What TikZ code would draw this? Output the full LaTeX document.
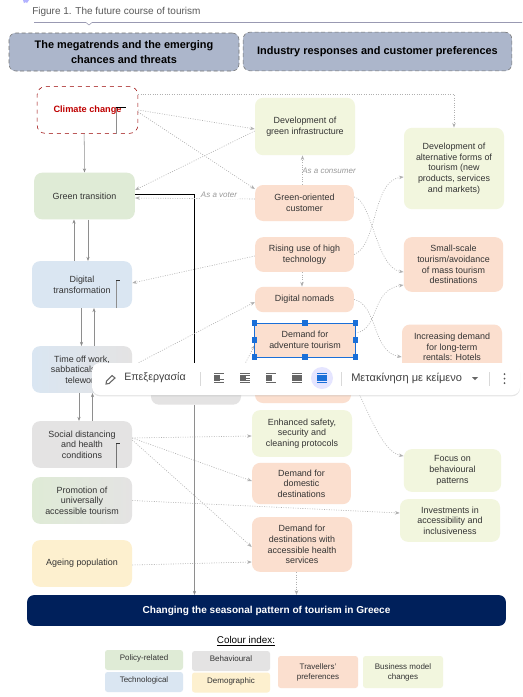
\documentclass[tikz,border=0pt]{standalone}
\usepackage{fontspec}
\setmainfont{Liberation Sans}
\usetikzlibrary{arrows.meta,backgrounds,shadows}

\definecolor{headblue}{HTML}{ACB6CB}
\definecolor{navybar}{HTML}{00205B}
\definecolor{policygreen}{HTML}{DFEBD6}
\definecolor{techblue}{HTML}{DAE6F2}
\definecolor{behavgrey}{HTML}{E4E3E3}
\definecolor{demoyellow}{HTML}{FDF0CF}
\definecolor{prefpeach}{HTML}{FBDFCF}
\definecolor{bizlime}{HTML}{F2F6DE}
\definecolor{linegrey}{HTML}{8E8E8E}
\definecolor{dotgrey}{HTML}{B0B0B0}
\definecolor{selblue}{HTML}{1A6FD8}
\tikzset{
	box/.style={rounded corners=6pt, inner sep=1pt, align=center, text=black!80, font=\fontsize{6.7}{8}\selectfont},
	headbox/.style={rounded corners=5pt, draw=black!55, densely dashed, line width=0.4pt, fill=headblue, align=center, font=\fontsize{8.2}{11}\selectfont\bfseries},
	lane/.style={linegrey, -{Stealth[length=3pt,width=2.4pt]}},
	lanegrey/.style={linegrey, line width=0.7pt},
	dots/.style={dotgrey, dash pattern=on 0.7pt off 1.1pt, line width=0.45pt, -{Stealth[length=3.5pt,width=2.6pt]}},
	notelabel/.style={font=\fontsize{6}{7}\selectfont\itshape, text=black!40, inner sep=1pt},
	handle/.style={fill=selblue, minimum size=4pt, inner sep=0pt},
	swatch/.style={rounded corners=2pt, inner sep=0pt, align=center, text=black!80, font=\fontsize{6}{7.5}\selectfont},
	toolicon/.style={black!60, line width=0.5pt}
}

\begin{document}
\begin{tikzpicture}[x=0.75pt,y=-0.75pt]
	\useasboundingbox (0,0) rectangle (522,697);
	\fill [white] (0,0) rectangle (522,697);

	% caption
	\fill [blue!30] (23,0) -- (29,0) -- (27,3) -- (26,2) -- (24,3) -- cycle;
	\node [anchor=west, inner sep=0pt, text=black!65, font=\fontsize{7.5}{9}\selectfont] (caption) at (32,12) {Figure 1. The future course of tourism};
	\draw [blue!25!black!40, line width=0.4pt] (34,22.5) -- (86,22.5) -- (89,25) -- (92,22.5) -- (522,22.5);

	% headers
	\node [headbox, minimum width=172.5pt, minimum height=28.5pt] (megatrends) at (124,52) {The megatrends and the emerging\\chances and threats};
	\node [headbox, minimum width=201.5pt, minimum height=29pt] (responses) at (377.5,51.5) {Industry responses and customer preferences};

	% left column
	\node [box, draw=red!60!black, dashed, line width=0.4pt, fill=white, minimum width=75.5pt, minimum height=35pt, text=red!75!black, font=\fontsize{6.9}{8}\selectfont\bfseries] (climate) at (87.5,110) {Climate change};
	\node [box, fill=policygreen, minimum width=75.5pt, minimum height=35pt] (green) at (84.5,196) {Green transition};
	\node [box, fill=techblue, minimum width=75pt, minimum height=35pt] (digital) at (82,284.5) {Digital\\transformation};
	\node [box, left color=techblue, middle color=techblue, right color=behavgrey, minimum width=75pt, minimum height=35pt] (timeoff) at (82,369.5) {Time off work,\\sabbaticals and\\telework};
	\node [box, fill=behavgrey, minimum width=75pt, minimum height=35pt] (social) at (82,444.5) {Social distancing\\and health\\conditions};
	\node [box, left color=policygreen, right color=behavgrey, minimum width=75pt, minimum height=35pt] (promotion) at (82,500.5) {Promotion of\\universally\\accessible tourism};
	\node [box, fill=demoyellow, minimum width=75pt, minimum height=35pt] (ageing) at (82,563.5) {Ageing population};

	% middle column
	\node [box, fill=behavgrey, minimum width=67.5pt, minimum height=25pt] (hiddengrey) at (196,388) {};
	\node [box, fill=bizlime, minimum width=75pt, minimum height=43pt] (infra) at (305,126.5) {Development of\\green infrastructure};
	\node [box, fill=prefpeach, minimum width=74pt, minimum height=27pt] (oriented) at (304.5,203) {Green-oriented\\customer};
	\node [box, fill=prefpeach, minimum width=74pt, minimum height=26pt] (rising) at (304.5,254.5) {Rising use of high\\technology};
	\node [box, fill=prefpeach, minimum width=74pt, minimum height=19pt] (nomads) at (304.5,299.5) {Digital nomads};
	\node [box, rounded corners=0pt, fill=prefpeach, minimum width=75pt, minimum height=25pt] (adventure) at (305,340) {Demand for\\adventure tourism};
	\node [box, fill=prefpeach, minimum width=72pt, minimum height=30pt] (hiddenpeach) at (303,383) {};
	\node [box, fill=bizlime, minimum width=75pt, minimum height=35pt] (safety) at (302,433.5) {Enhanced safety,\\security and\\cleaning protocols};
	\node [box, fill=prefpeach, minimum width=74pt, minimum height=31pt] (domestic) at (301.5,483.5) {Demand for\\domestic\\destinations};
	\node [box, fill=prefpeach, minimum width=75pt, minimum height=41pt] (health) at (302,544.5) {Demand for\\destinations with\\accessible health\\services};

	% right column
	\node [box, fill=bizlime, minimum width=75pt, minimum height=61pt] (altforms) at (454,168.5) {Development of\\alternative forms of\\tourism (new\\products, services\\and markets)};
	\node [box, fill=prefpeach, minimum width=74.5pt, minimum height=41pt] (smallscale) at (453.5,264.5) {Small-scale\\tourism/avoidance\\of mass tourism\\destinations};
	\node [box, fill=prefpeach, minimum width=75pt, minimum height=49.5pt] (rentals) at (452,357.5) {Increasing demand\\for long-term\\rentals: Hotels\\ \\ };
	\node [box, fill=bizlime, minimum width=73pt, minimum height=32pt] (focus) at (452.5,470.5) {Focus on\\behavioural\\patterns};
	\node [box, fill=bizlime, minimum width=75pt, minimum height=32pt] (invest) at (450,520.5) {Investments in\\accessibility and\\inclusiveness};

	% bottom bar
	\node [rounded corners=5pt, fill=navybar, text=white, minimum width=359pt, minimum height=23pt, inner sep=0pt, font=\fontsize{7.55}{9}\selectfont\bfseries] (bar) at (266.5,610.5) {Changing the seasonal pattern of tourism in Greece};

	\begin{scope}[on background layer]
		% long lines running behind the boxes
		\coordinate (trunk) at (116,0);
		\coordinate (voterx) at (194.5,0);
		\draw [lanegrey] (bar.north -| trunk) -- (climate.south -| trunk);
		\draw [dots, -] (altforms.east) -- (bar.north -| 506,0);
		\draw [dots] (rentals.south -| 440,0) -- (focus.north -| 440,0);
		\draw [dots, -] (rentals.south -| 456.5,0) -- (focus.north -| 456.5,0);
	\end{scope}

	% solid connectors
	\draw [lanegrey, line width=0.5pt] (climate.south -| trunk) -- (trunk |- 0,107);
	\draw [black, line width=0.5pt] (trunk |- 0,107) -- (126,107);
	\draw [lanegrey] (digital.south -| trunk) -- (trunk |- 0,280);
	\draw [black!80, line width=0.5pt] (trunk |- 0,280) -- ++(3.5,0);
	\draw [lanegrey, black!55] (social.south -| trunk) -- (trunk |- 0,443);
	\draw [black!80, line width=0.5pt] (trunk |- 0,443) -- ++(3.5,0);
	\draw [lane] ([xshift=-2.5pt]climate.south) -- (green.north);
	\draw [lane] (digital.north -| 74,0) -- (green.south -| 74,0);
	\draw [lane] (green.south -| 88,0) -- (digital.north -| 88,0);
	\draw [lane] (digital.south -| 81.5,0) -- (timeoff.north -| 81.5,0);
	\draw [lane] (timeoff.north -| 94,0) -- (digital.south -| 94,0);
	\draw [lane] (timeoff.south -| 79,0) -- (social.north -| 79,0);
	\draw [lane] (social.north -| 92.5,0) -- (timeoff.south -| 92.5,0);
	\draw [black, line width=0.5pt] (green.east |- 0,194) -- (voterx |- 0,194) -- (hiddengrey.north -| voterx);
	\draw [lane] (hiddengrey.south -| voterx) -- (bar.north -| voterx);

	% dotted connectors
	\draw [dots] (climate.east |- 0,94.5) -- (altforms.north |- 0,94.5) -- (altforms.north);
	\draw [dots] (climate.east |- 0,110) -- (infra.west |- 0,129);
	\draw [dots] (climate.east |- 0,112) -- (oriented.west |- 0,189);
	\draw [dots] (infra.west |- 0,131) -- (green.east |- 0,190);
	\draw [dots] (oriented.west |- 0,199) -- (green.east |- 0,198);
	\draw [dots] (oriented.north -| 302.5,0) -- (infra.south -| 302.5,0);
	\draw [dots] (rising.south -| 302,0) -- (nomads.north -| 302,0);
	\draw [dots] (rising.west |- 0,256) -- (digital.east |- 0,283);
	\draw [dots] (timeoff.east |- 0,366) -- (nomads.west |- 0,302);
	\draw [dots] (hiddengrey.north east) -- (adventure.west |- 0,345);
	\draw [dots] (oriented.east |- 0,197) .. controls (372,200) and (376,268) .. (smallscale.west |- 0,272);
	\draw [dots] (rising.east) .. controls (378,245) and (372,180) .. (altforms.west |- 0,177);
	\draw [dots] (nomads.east) .. controls (378,305) and (372,352) .. (rentals.west |- 0,357);
	\draw [dots] (adventure.east |- 0,333) .. controls (380,330) and (370,290) .. (smallscale.west |- 0,285);
	\draw [dots] (hiddenpeach.east) .. controls (360,385) and (378,452) .. (focus.west |- 0,456);
	\draw [dots] (social.east |- 0,438) -- (safety.west |- 0,436);
	\draw [dots] (social.east |- 0,438) -- (domestic.west |- 0,481);
	\draw [dots] (social.east |- 0,440) -- (health.west |- 0,547);
	\draw [dots] (promotion.east) -- (invest.west |- 0,513);
	\draw [dots] (ageing.east |- 0,565) -- (health.west |- 0,562);
	\draw [dots] (health.south -| 296.5,0) -- (bar.north -| 296.5,0);

	% labels on the lines
	\node [notelabel, fill=white] (voter) at (219,195) {As a voter};
	\node [notelabel] (consumer) at (329,171) {As a consumer};

	% selection round the adventure box
	\draw [selblue, line width=0.6pt] (adventure.north west) rectangle (adventure.south east);
	\foreach \a in {north west,north,north east,west,east,south west,south,south east}
		\node [handle] at (adventure.\a) {};

	% toolbar
	\node [rounded corners=6pt, fill=white, minimum width=321pt, minimum height=24pt, drop shadow={opacity=0.2,shadow xshift=0pt,shadow yshift=-1pt}] (toolbar) at (306,379) {};
	\node [anchor=west, inner sep=0pt, text=black!75, font=\fontsize{8}{9}\selectfont] (edit) at (124,378) {Επεξεργασία};
	\node [anchor=west, inner sep=0pt, text=black!75, font=\fontsize{8.3}{9}\selectfont] (move) at (351,378) {Μετακίνηση με κείμενο};
	% pencil
	\draw [black!60, line width=0.8pt] (106,384) -- (106.5,381) -- (112,375.5) -- (115,378) -- (109,383.5) -- cycle;
	% dividers
	\foreach \x in {200,341,489}
		\draw [black!15, line width=0.4pt] (\x,372) -- (\x,386);
	% wrap icons
	\fill [blue!10] (322,378) circle (11);
	\foreach \x/\w in {219/6,245/6,271/6,297/10}{
		\fill [black!60] (\x-5,375) rectangle (\x-5+\w,381);
		\draw [toolicon] (\x-5,373.5) -- (\x+5,373.5) (\x-5,382.5) -- (\x+5,382.5);
	}
	\draw [toolicon] (220,379.5) -- (224,379.5) (246,375.5) -- (250,375.5) (246,378) -- (250,378) (246,380.5) -- (250,380.5);
	\fill [selblue] (317,375) rectangle (327,381);
	\draw [selblue, line width=0.5pt] (317,373.5) -- (327,373.5) (317,382.5) -- (327,382.5);
	% dropdown and menu
	\fill [black!60] (472,377) -- (478,377) -- (475,380) -- cycle;
	\foreach \y in {374,378.5,383}
		\fill [black!65] (504.5,\y) circle (1);

	% colour index
	\node [inner sep=0pt, text=black, font=\fontsize{7.4}{9}\selectfont] (indexlabel) at (246,641) {\underline{Colour index:}};
	\node [swatch, fill=policygreen, minimum width=58.5pt, minimum height=15pt] (policy) at (144,660) {\raisebox{4pt}{Policy-related}};
	\node [swatch, fill=techblue, minimum width=58.5pt, minimum height=15pt] (tech) at (144,682) {\raisebox{4pt}{Technological}};
	\node [swatch, fill=behavgrey, minimum width=58.5pt, minimum height=15pt] (behav) at (231,661) {\raisebox{3pt}{Behavioural}};
	\node [swatch, fill=demoyellow, minimum width=58.5pt, minimum height=15pt] (demo) at (231,682.5) {\raisebox{3pt}{Demographic}};
	\node [swatch, fill=prefpeach, minimum width=60pt, minimum height=24pt] (travel) at (318,672) {Travellers'\\preferences};
	\node [swatch, fill=bizlime, minimum width=60pt, minimum height=24pt] (biz) at (403,672) {Business model\\changes};
\end{tikzpicture}
\end{document}
